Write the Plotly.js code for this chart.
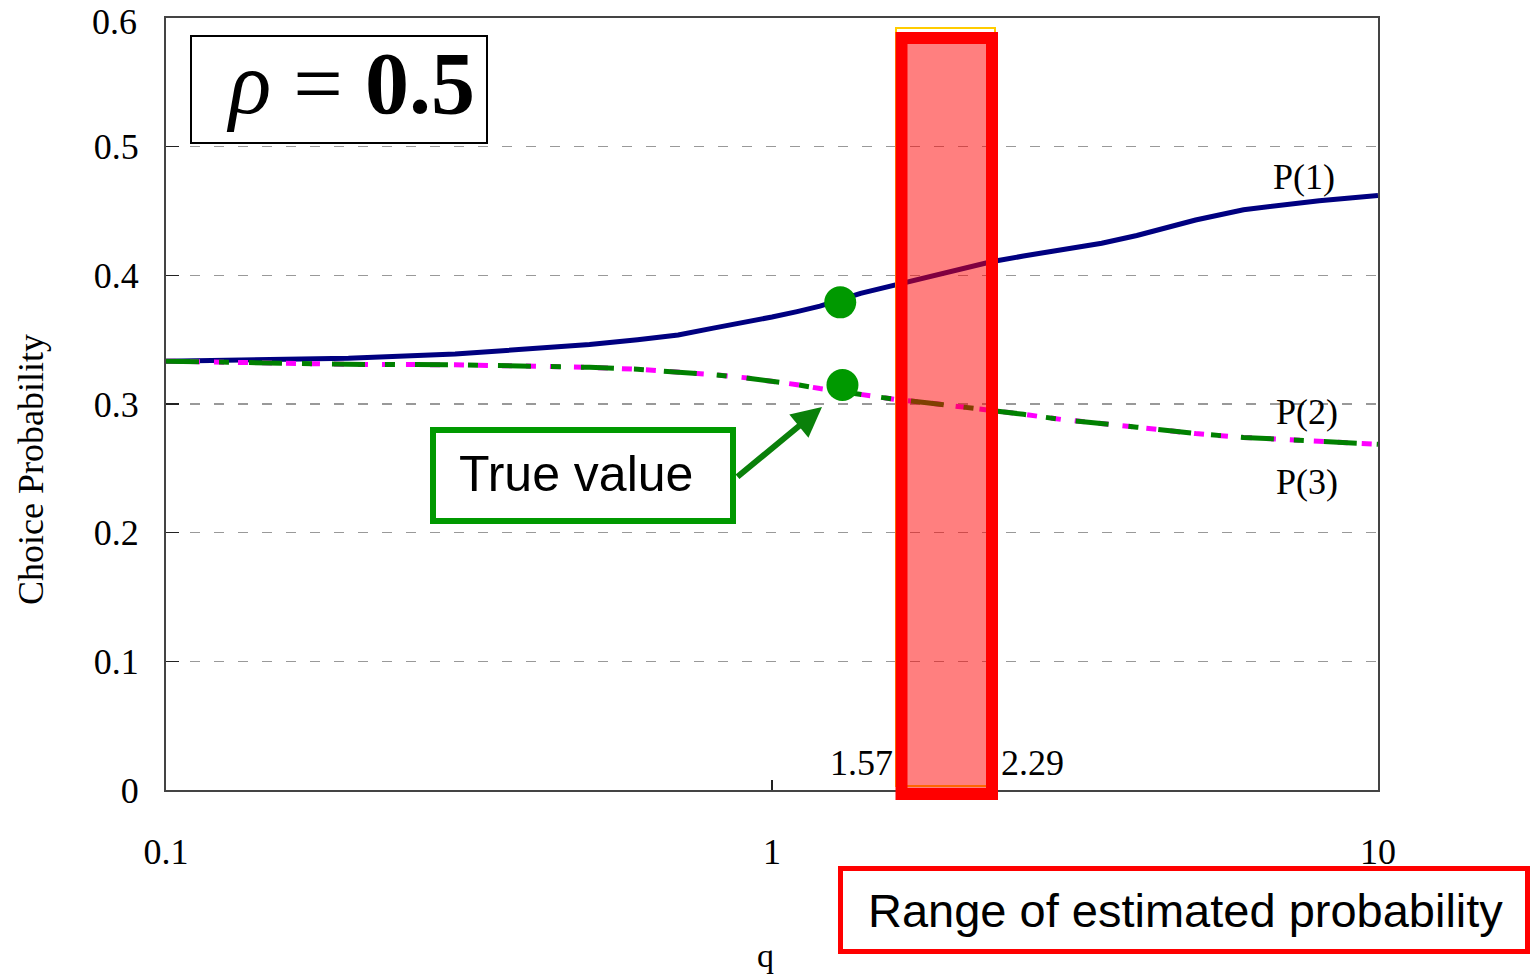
<!DOCTYPE html>
<html>
<head>
<meta charset="utf-8">
<script src="https://cdn.plot.ly/plotly-3.0.1.min.js"></script>
<style>html,body{margin:0;padding:0;background:#fff;}#chart{width:1532px;height:979px;}</style>
</head>
<body>
<div id="chart"></div>
<script>
// q values (log axis)
const qValues = [0.1, 0.15, 0.2, 0.3, 0.4, 0.5, 0.6, 0.7, 0.8, 0.9, 1.0, 1.1, 1.2, 1.4, 1.6, 1.8, 2.0, 2.3, 2.6, 3.0, 3.5, 4.0, 5.0, 6.0, 7.0, 8.0, 10.0];
const p1Values = [0.3333, 0.3341, 0.3355, 0.3388, 0.3425, 0.3462, 0.3500, 0.3536, 0.3590, 0.3632, 0.3676, 0.3718, 0.3760, 0.3860, 0.3925, 0.3985, 0.4040, 0.4105, 0.4150, 0.4195, 0.4250, 0.4310, 0.4430, 0.4510, 0.4550, 0.4580, 0.4620];
const p2Values = [0.3333, 0.3316, 0.3308, 0.3305, 0.3296, 0.3285, 0.3270, 0.3250, 0.3228, 0.3205, 0.3180, 0.3150, 0.3120, 0.3070, 0.3035, 0.3010, 0.2985, 0.2955, 0.2920, 0.2880, 0.2850, 0.2820, 0.2770, 0.2740, 0.2725, 0.2710, 0.2687];
const p3Values = [0.3333, 0.3316, 0.3308, 0.3305, 0.3296, 0.3285, 0.3270, 0.3250, 0.3228, 0.3205, 0.3180, 0.3150, 0.3120, 0.3070, 0.3035, 0.3010, 0.2985, 0.2955, 0.2920, 0.2880, 0.2850, 0.2820, 0.2770, 0.2740, 0.2725, 0.2710, 0.2687];
// true values
const trueQ = [1.296, 1.307];
const trueP = [0.379, 0.3148];
// range bounds
const rangeLow = 1.57;
const rangeHigh = 2.29;
const xTickVals = [0.1, 1, 10];
const xTickText = ["0.1", "1", "10"];
const yTickVals = [0, 0.1, 0.2, 0.3, 0.4, 0.5, 0.6];
const yTickText = ["0", "0.1", "0.2", "0.3", "0.4", "0.5", "0.6"];
const yMax = 0.6;

const serif = "Liberation Serif, Times New Roman, serif";
const sans = "Liberation Sans, Arial, sans-serif";

// pixel -> paper helpers (plot area 166..1378 x, 18..790 y)
const L = 166, R = 1378, T = 18, B = 790;
const px = x => (x - L) / (R - L);
const py = y => (B - y) / (B - T);

const traces = [
  {x: qValues, y: p1Values, mode: 'lines', line: {color: '#000080', width: 5}, name: 'P(1)'},
  {x: qValues, y: p2Values, mode: 'lines', line: {color: '#FF00FF', width: 5, dash: '10px,14px'}, name: 'P(2)'},
  {x: qValues, y: p3Values, mode: 'lines', line: {color: '#008000', width: 5, dash: '33px,20px,10px,20px'}, name: 'P(3)'},
  {x: trueQ, y: trueP, mode: 'markers', marker: {color: '#009900', size: 32}, name: 'True value'}
];

const layout = {
  width: 1532, height: 979,
  margin: {l: L, r: 1532 - R, t: T, b: 979 - B},
  paper_bgcolor: '#fff', plot_bgcolor: '#fff',
  showlegend: false,
  xaxis: {
    type: 'log', range: [-1, 1],
    tickvals: xTickVals, ticktext: xTickText,
    ticks: 'inside', ticklen: 10, tickwidth: 1.5, tickcolor: '#222',
    ticklabelstandoff: 29,
    tickfont: {family: serif, size: 36, color: '#000'},
    showgrid: false, zeroline: false,
    showline: true, linecolor: '#444', linewidth: 2, mirror: true
  },
  yaxis: {
    range: [0, yMax],
    tickvals: yTickVals, ticktext: yTickText,
    ticks: 'inside', ticklen: 13, tickwidth: 1.5, tickcolor: '#222',
    ticklabelstandoff: 18,
    tickfont: {family: serif, size: 36, color: '#000'},
    showgrid: true, gridcolor: '#999', gridwidth: 1.5, griddash: '10px,14px',
    zeroline: false,
    showline: true, linecolor: '#444', linewidth: 2, mirror: true
  },
  shapes: [
    // gold outline behind range box
    {type: 'rect', xref: 'paper', yref: 'paper', x0: px(896), x1: px(995), y0: py(786), y1: py(28),
     line: {color: '#FFCC00', width: 2}, fillcolor: 'rgba(0,0,0,0)', layer: 'above'},
    // range box
    {type: 'rect', xref: 'paper', yref: 'paper', x0: px(901.5), x1: px(992), y0: py(794), y1: py(38),
     line: {color: '#FF0000', width: 12}, fillcolor: 'rgba(255,0,0,0.5)', layer: 'above'},
    // rho box
    {type: 'rect', xref: 'paper', yref: 'paper', x0: px(191), x1: px(487), y0: py(143), y1: py(36),
     line: {color: '#000', width: 2}, fillcolor: '#fff', layer: 'above'},
    // True value box
    {type: 'rect', xref: 'paper', yref: 'paper', x0: px(433), x1: px(733), y0: py(521), y1: py(430),
     line: {color: '#009900', width: 6}, fillcolor: '#fff', layer: 'above'},
    // Range label box
    {type: 'rect', xref: 'paper', yref: 'paper', x0: px(840.5), x1: px(1527.5), y0: py(951.5), y1: py(868.5),
     line: {color: '#FF0000', width: 5}, fillcolor: '#fff', layer: 'above'}
  ],
  annotations: [
    // top y tick label (Plotly drops the label at the range end here)
    {xref: 'paper', yref: 'paper', x: px(139), y: py(0), text: yTickText[yTickText.length - 1], showarrow: false,
     font: {family: serif, size: 36, color: '#000'}, xanchor: 'right', yanchor: 'top'},
    {xref: 'paper', yref: 'paper', x: px(350), y: py(84), text: '<i>ρ</i> = <b>0.5</b>', showarrow: false,
     font: {family: serif, size: 88, color: '#000'}, xanchor: 'center', yanchor: 'middle'},
    {xref: 'paper', yref: 'paper', x: px(576), y: py(474), text: 'True value', showarrow: false,
     font: {family: sans, size: 50, color: '#000'}, xanchor: 'center', yanchor: 'middle'},
    {xref: 'paper', yref: 'paper', x: px(822), y: py(407), ax: -86, ay: 71, text: '', showarrow: true,
     arrowcolor: '#0a800a', arrowwidth: 6, arrowhead: 2, arrowsize: 1},
    {xref: 'paper', yref: 'paper', x: px(1185), y: py(910), text: 'Range of estimated probability', showarrow: false,
     font: {family: sans, size: 47, color: '#000'}, xanchor: 'center', yanchor: 'middle'},
    {xref: 'paper', yref: 'paper', x: px(861), y: py(763), text: rangeLow.toFixed(2), showarrow: false,
     font: {family: serif, size: 36, color: '#000'}, xanchor: 'center', yanchor: 'middle'},
    {xref: 'paper', yref: 'paper', x: px(1032), y: py(763), text: rangeHigh.toFixed(2), showarrow: false,
     font: {family: serif, size: 36, color: '#000'}, xanchor: 'center', yanchor: 'middle'},
    {xref: 'paper', yref: 'paper', x: px(1304), y: py(177), text: 'P(1)', showarrow: false,
     font: {family: serif, size: 36, color: '#000'}, xanchor: 'center', yanchor: 'middle'},
    {xref: 'paper', yref: 'paper', x: px(1307), y: py(412), text: 'P(2)', showarrow: false,
     font: {family: serif, size: 36, color: '#000'}, xanchor: 'center', yanchor: 'middle'},
    {xref: 'paper', yref: 'paper', x: px(1307), y: py(482), text: 'P(3)', showarrow: false,
     font: {family: serif, size: 36, color: '#000'}, xanchor: 'center', yanchor: 'middle'},
    {xref: 'paper', yref: 'paper', x: px(765), y: py(956), text: 'q', showarrow: false,
     font: {family: serif, size: 34, color: '#000'}, xanchor: 'center', yanchor: 'middle'},
    {xref: 'paper', yref: 'paper', x: px(31), y: py(470), text: 'Choice Probability', showarrow: false, textangle: -90,
     font: {family: serif, size: 36, color: '#000'}, xanchor: 'center', yanchor: 'middle'}
  ]
};

Plotly.newPlot('chart', traces, layout, {displayModeBar: false, staticPlot: true});
</script>
</body>
</html>
